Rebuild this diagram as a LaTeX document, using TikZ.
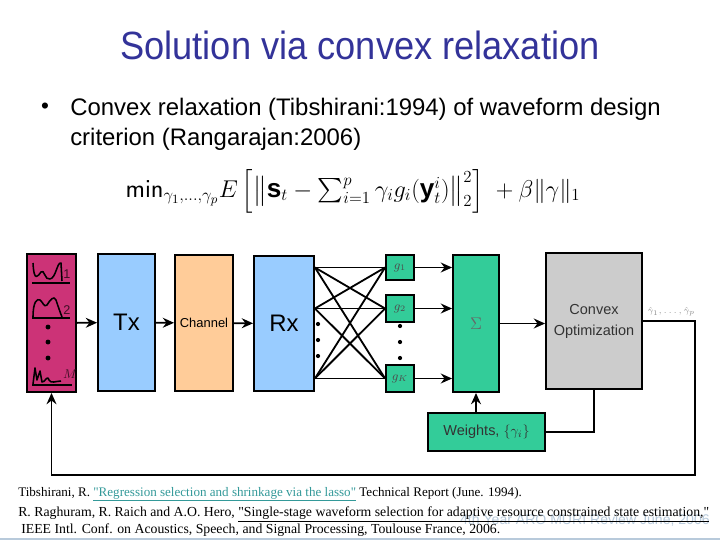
\documentclass[tikz,border=0pt]{standalone}
\usepackage{amsmath}
\usepackage{fontspec}
\setmainfont{Liberation Sans}
\newfontfamily\reffont{Liberation Serif}
\usetikzlibrary{positioning, arrows.meta, calc}
\definecolor{tcolor}{HTML}{333399}
\definecolor{wcolor}{HTML}{CC3377}
\definecolor{bcolor}{HTML}{99CCFF}
\definecolor{pcolor}{HTML}{FFCC99}
\definecolor{gcolor}{HTML}{33CC99}
\definecolor{lcolor}{HTML}{339999}
\definecolor{fcolor}{HTML}{B8CADB}
\begin{document}
\begin{tikzpicture}[x=0.025cm, y=-0.025cm,
    block/.style={rectangle, draw, line width=1.3pt, align=center, inner sep=0pt},
    gbox/.style={block, fill=gcolor, minimum width=0.7cm, font=\small, text=black!70},
    arr/.style={-{Stealth[length=8pt, width=7pt]}, line width=1.3pt},
    wire/.style={line width=1.3pt},
    dot/.style={circle, fill, inner sep=0pt, minimum size=3pt},
    wv/.style={line width=1.1pt, line join=round},
    lbl/.style={font=\fontsize{6.5}{7}\selectfont, text=black!45, inner sep=1pt},
    ref/.style={anchor=base west, font=\reffont\fontsize{9.3}{11}\selectfont, inner sep=0pt},
  ]
    \useasboundingbox (0,0) rectangle (720,540);

    \node[text=tcolor, font=\fontsize{28}{30}\selectfont, xscale=0.92, transform shape] (title) at (360,45) {Solution via convex relaxation};
    \node[font=\fontsize{16}{18}\selectfont] (bul) at (45,108) {\textbullet};
    \node[anchor=west, align=left, font=\fontsize{17}{21.5}\selectfont, inner sep=0pt] (txt) at (70,124)
      {Convex relaxation (Tibshirani:1994) of waveform design\\criterion (Rangarajan:2006)};
    \node[font=\fontsize{18.6}{20}\selectfont] (crit) at (353,191)
      {$\textstyle\mathsf{min}_{\gamma_1,\ldots,\gamma_p}E\left[\left\|\mathbf{s}_t-\sum_{i=1}^p\gamma_i g_i(\mathbf{y}_t^i)\right\|_2^2\right]\;+\beta\|\gamma\|_1$};

    % blocks
    \node[block, fill=wcolor, minimum width=1.225cm, minimum height=3.45cm] (wave) at (51.5,323) {};
    \node[block, fill=bcolor, minimum width=1.425cm, minimum height=3.425cm, font=\fontsize{17}{18}\selectfont] (tx) at (126.5,322.5) {Tx};
    \node[block, fill=pcolor, minimum width=1.45cm, minimum height=3.4cm, font=\fontsize{9.2}{10}\selectfont] (chan) at (204,323) {Channel};
    \node[block, fill=bcolor, minimum width=1.5cm, minimum height=3.375cm, font=\fontsize{17}{18}\selectfont] (rx) at (284,323.5) {Rx};
    \node[gbox, minimum height=0.625cm] (g1) at (400,267.5) {$g_1$};
    \node[gbox, minimum height=0.675cm] (g2) at (400,308.5) {$g_2$};
    \node[gbox, minimum height=0.675cm] (gK) at (400,378.5) {$g_K$};
    \node[block, fill=gcolor, minimum width=1.15cm, minimum height=3.425cm, text=black!60, font=\large] (sum) at (476,323.5) {$\Sigma$};
    \node[block, fill=black!20, minimum width=2.4cm, minimum height=3.4cm, font=\fontsize{10.3}{12}\selectfont, text=black!80] (cvx) at (594,321) {Convex\\[3pt]Optimization};
    \node[block, fill=gcolor, minimum width=2.925cm, minimum height=0.95cm, font=\fontsize{10.3}{12}\selectfont, text=black!80] (wts) at (486.5,432) {Weights, $\{\gamma_i\}$};

    % waveforms
    \draw[wv] (32,283) -- (70,283);
    \draw[wv] (33,263) .. controls (34,283) and (38,276) .. (41,272) .. controls (44,268) and (45,281) .. (50,279)
      .. controls (56,278) and (57,262) .. (61,263) -- (62,281);
    \node[text=black!70!wcolor, font=\small] (n1) at (67,274) {1};
    \draw[wv] (32,318) -- (70,318);
    \draw[wv] (33,317) .. controls (33,302) and (37,298) .. (40,300) .. controls (43,302) and (44,308) .. (47,305)
      .. controls (50,300) and (54,295) .. (56,300) .. controls (58,306) and (60,312) .. (62,317);
    \node[text=black!70!wcolor, font=\small] (n2) at (67,310) {2};
    \draw[wv] (32,385) -- (72,385);
    \draw[wv] (33,384) -- (35,368) -- (37,380) -- (40,371) -- (42,382) .. controls (45,383) and (47,374) .. (49,380)
      .. controls (51,384) and (56,381) .. (61,381);
    \node[text=black!70!wcolor, font=\small\itshape] (nM) at (70,374) {$M$};
    \foreach \y in {327,342,358} \node[dot, minimum size=3.5pt] at (48,\y) {};

    % forward path
    \draw[arr] (wave) -- (tx);
    \draw[arr] (tx) -- (chan);
    \draw[arr] (chan) -- (rx);
    \foreach \a in {1,2,K}
      \foreach \b in {1,2,K}
        \draw[wire] (rx.east |- g\a) -- (g\b.west);
    \foreach \y in {324,340,356} {
      \node[dot] at (318,\y) {};
      \node[dot] at (400,\y+2) {};
    }
    \foreach \a in {1,2,K}
      \draw[arr] (g\a) -- (g\a -| sum.west);
    \draw[arr] (sum) -- (sum -| cvx.west);

    % feedback
    \coordinate (fb) at (695,475);
    \draw[arr] (cvx.east) -| (fb) -| (wave.south);
    \node[lbl, anchor=south west] (gh) at (646,318) {$\hat\gamma_1,\ldots,\hat\gamma_p$};
    \draw[wire] (cvx.south) |- (wts.east);
    \draw[arr] (wts.north -| sum.south) -- (sum.south);

    % references
    \node[anchor=base east, font=\fontsize{10}{12}\selectfont, text=fcolor, inner sep=0pt] (foot) at (710,524) {4th Year ARO MURI Review June, 2006};
    \node[ref] (r1) at (18,496) {Tibshirani, R. \textcolor{lcolor}{\underline{"Regression selection and shrinkage via the lasso"}} Technical Report (June. 1994).};
    \node[ref, font=\reffont\fontsize{9.8}{11}\selectfont] (r2) at (18,516) {R. Raghuram, R. Raich and A.O. Hero, \underline{"Single-stage waveform selection for adaptive resource constrained state estimation,"}};
    \node[ref, font=\reffont\fontsize{9.8}{11}\selectfont] (r3) at (21,533) {IEEE Intl. Conf. on Acoustics, Speech, and Signal Processing, Toulouse France, 2006.};
    \draw[fcolor, line width=1pt] (0,539) -- (720,539);
  \end{tikzpicture}
\end{document}
